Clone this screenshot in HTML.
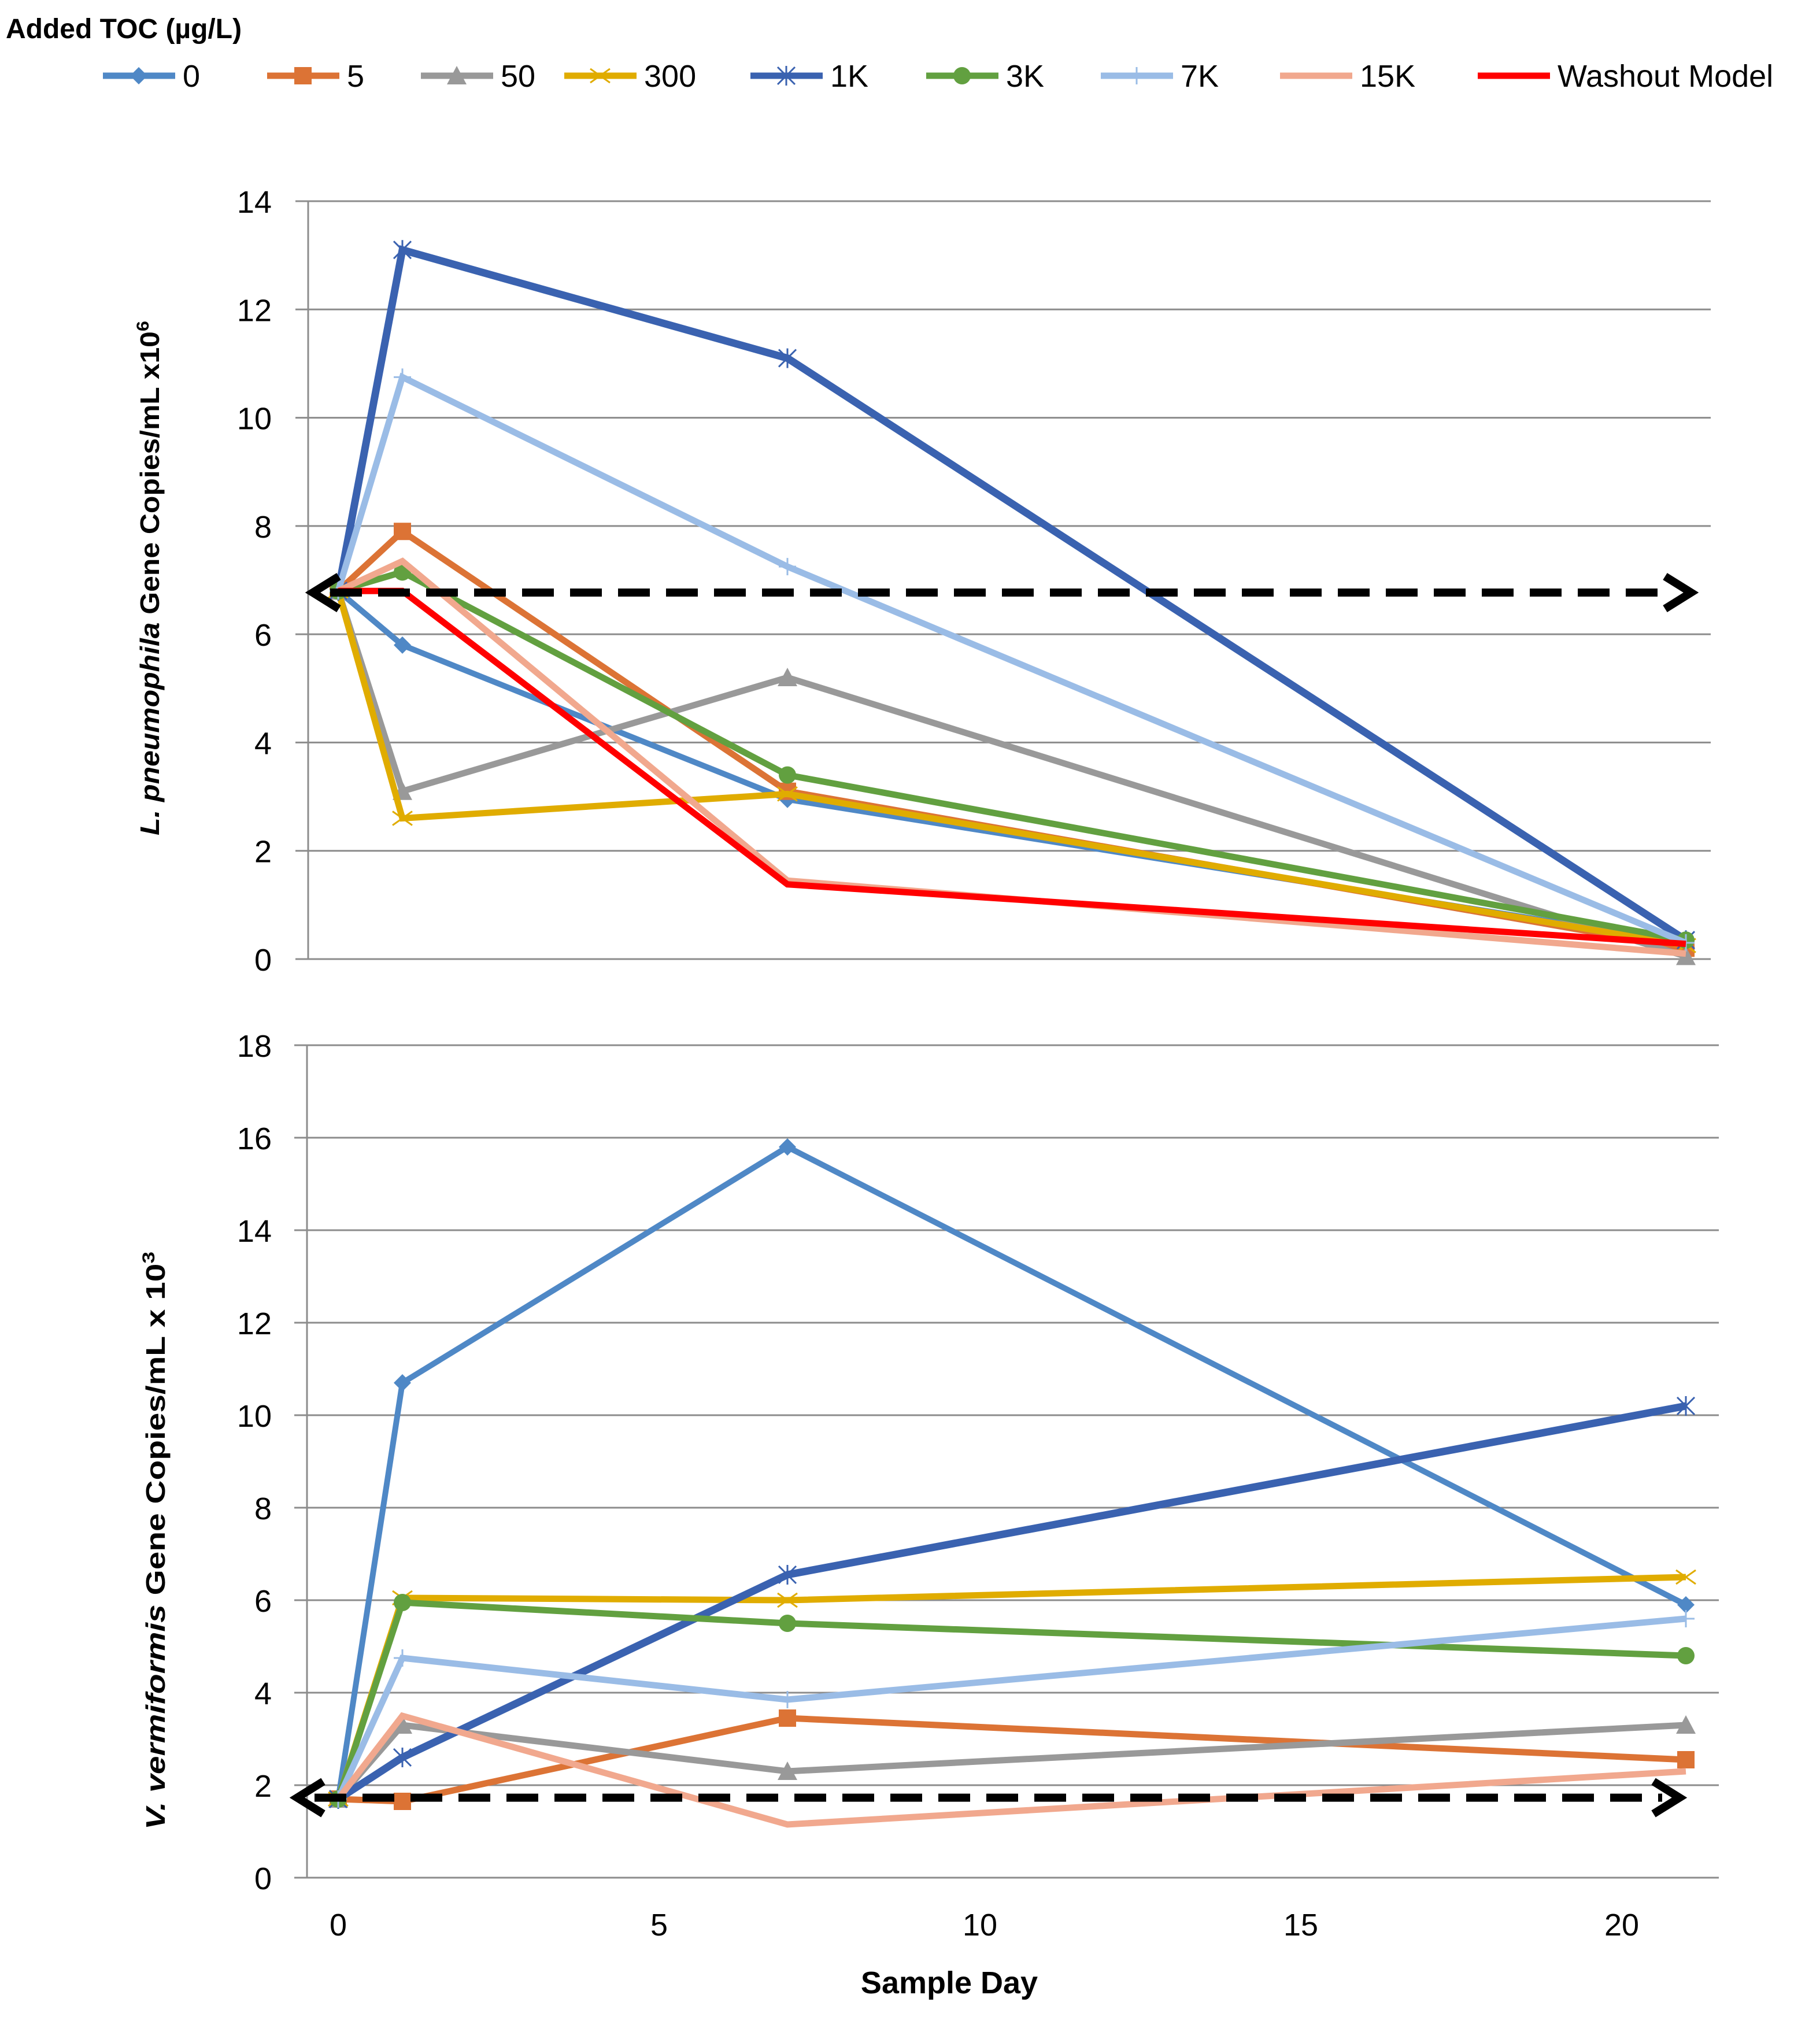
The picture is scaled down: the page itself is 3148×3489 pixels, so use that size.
<!DOCTYPE html>
<html><head><meta charset="utf-8"><style>
html,body{margin:0;padding:0;background:#fff;}
svg{display:block;}
text{font-family:"Liberation Sans",sans-serif;}
</style></head><body>
<svg id="chart" width="3148" height="3489" viewBox="0 0 3148 3489" xmlns="http://www.w3.org/2000/svg">
<text x="10" y="66" font-size="48" font-weight="bold">Added TOC (µg/L)</text>
<g id="legend"></g>
<g id="top"></g>
<g id="bot"></g>
<text transform="translate(275,1000) rotate(-90)" text-anchor="middle" font-size="46" font-weight="bold" textLength="890" lengthAdjust="spacingAndGlyphs"><tspan font-style="italic">L. pneumophila</tspan> Gene Copies/mL x10<tspan font-size="30" dy="-18">6</tspan></text>
<text transform="translate(285,2665) rotate(-90)" text-anchor="middle" font-size="46" font-weight="bold" textLength="1000" lengthAdjust="spacingAndGlyphs"><tspan font-style="italic">V. vermiformis</tspan> Gene Copies/mL x 10<tspan font-size="30" dy="-18">3</tspan></text>
<text x="1642" y="3448" text-anchor="middle" font-size="54" font-weight="bold">Sample Day</text>
</svg>
<script>
const days = [0, 1, 7, 21];
const seriesNames = ["0", "5", "50", "300", "1K", "3K", "7K", "15K", "Washout Model"];
const topS0 = [6.8, 5.8, 2.95, 0.3];
const topS5 = [6.8, 7.9, 3.1, 0.2];
const topS50 = [6.8, 3.1, 5.2, 0.05];
const topS300 = [6.8, 2.6, 3.05, 0.25];
const topS1K = [6.8, 13.1, 11.1, 0.35];
const topS3K = [6.8, 7.15, 3.4, 0.35];
const topS7K = [6.8, 10.75, 7.25, 0.3];
const topS15K = [6.8, 7.35, 1.45, 0.1];
const topWashout = [6.8, 6.8, 1.38, 0.28];
const botS0 = [1.7, 10.7, 15.8, 5.9];
const botS5 = [1.7, 1.65, 3.45, 2.55];
const botS50 = [1.7, 3.3, 2.3, 3.3];
const botS300 = [1.7, 6.05, 6.0, 6.5];
const botS1K = [1.7, 2.6, 6.55, 10.2];
const botS3K = [1.7, 5.95, 5.5, 4.8];
const botS7K = [1.7, 4.75, 3.85, 5.6];
const botS15K = [1.7, 3.5, 1.15, 2.3];
const topTicks = [0, 2, 4, 6, 8, 10, 12, 14];
const botTicks = [0, 2, 4, 6, 8, 10, 12, 14, 16, 18];
const xTicks = [0, 5, 10, 15, 20];
const topBaseline = 6.77;
const botBaseline = 1.73;

const NS = "http://www.w3.org/2000/svg";
const colors = ["#4F88C6", "#DC7335", "#999999", "#E0AC00", "#3A62B0", "#62A040", "#9ABCE6", "#F1A88E", "#FF0000"];
const markers = ["diamond", "square", "triangle", "x", "star", "circle", "plus", "none", "none"];
const widths = [10, 11, 11, 11, 13, 11, 11, 11, 11];
function mk(tag, attrs, parent) { const e = document.createElementNS(NS, tag); for (const k in attrs) e.setAttribute(k, attrs[k]); parent.appendChild(e); return e; }
const xScale = d => 585 + d * 111;

function marker(g, type, x, y, c) {
  let e = null;
  const s = 15;
  if (type === "diamond") e = mk("polygon", {points: `${x},${y-s} ${x+s},${y} ${x},${y+s} ${x-s},${y}`, fill: c}, g);
  else if (type === "square") e = mk("rect", {x: x-s, y: y-s, width: 2*s, height: 2*s, fill: c}, g);
  else if (type === "triangle") e = mk("polygon", {points: `${x},${y-s-2} ${x+s+2},${y+s} ${x-s-2},${y+s}`, fill: c}, g);
  else if (type === "circle") e = mk("circle", {cx: x, cy: y, r: s, fill: c}, g);
  else if (type === "x") e = mk("path", {d: `M${x-s-2},${y-s+3}L${x+s+2},${y+s-3}M${x-s-2},${y+s-3}L${x+s+2},${y-s+3}`, stroke: c, "stroke-width": 3, fill: "none"}, g);
  else if (type === "star") e = mk("path", {d: `M${x-s},${y-s}L${x+s},${y+s}M${x-s},${y+s}L${x+s},${y-s}M${x},${y-s-2}L${x},${y+s+2}`, stroke: c, "stroke-width": 3, fill: "none"}, g);
  else if (type === "plus") e = mk("path", {d: `M${x-s},${y}L${x+s},${y}M${x},${y-s}L${x},${y+s}`, stroke: c, "stroke-width": 3, fill: "none"}, g);
  if (e) {   }
}

function panel(gid, y0, yTop, vmax, ticks, left, right, seriesArr, baseline) {
  const g = document.getElementById(gid);
  const ys = v => y0 - (y0 - yTop) * v / vmax;
  ticks.forEach(t => {
    const l = mk("line", {x1: left - 22, x2: right, y1: ys(t), y2: ys(t), stroke: "#8c8c8c", "stroke-width": 3}, g);
    
    
    const tx = mk("text", {x: 470, y: ys(t) + 20, "text-anchor": "end", "font-size": 54}, g);
    tx.textContent = t;
    
    
  });
  const ax = mk("line", {x1: left, x2: left, y1: yTop, y2: y0, stroke: "#8c8c8c", "stroke-width": 3}, g);
  
  
  seriesArr.forEach((vals, i) => {
    if (!vals) return;
    const pts = vals.map((v, j) => `${xScale(days[j])},${ys(v)}`).join(" ");
    const pl = mk("polyline", {points: pts, fill: "none", stroke: colors[i], "stroke-width": widths[i], "stroke-linejoin": "miter"}, g);
    
    
    vals.forEach((v, j) => marker(g, markers[i], xScale(days[j]), ys(v), colors[i]));
  });
  const by = ys(baseline);
  const x1 = left + 8 - (gid === "bot" ? 25 : 0), x2 = gid === "bot" ? 2905 : 2925;
  const dl = mk("line", {x1: x1 + 30, x2: x2 - 30, y1: by, y2: by, stroke: "#000", "stroke-width": 14, "stroke-dasharray": "55 28"}, g);
  
  
  const ar = mk("path", {d: `M${x1+45},${by-28}L${x1},${by}L${x1+45},${by+28}M${x2-45},${by-28}L${x2},${by}L${x2-45},${by+28}`, fill: "none", stroke: "#000", "stroke-width": 14, "stroke-linejoin": "miter"}, g);
  
  
}

panel("top", 1659, 348, 14, topTicks, 533, 2959, [topS0, topS5, topS50, topS300, topS1K, topS3K, topS7K, topS15K, topWashout], topBaseline);
panel("bot", 3248, 1808, 18, botTicks, 531, 2973, [botS0, botS5, botS50, botS300, botS1K, botS3K, botS7K, botS15K, null], botBaseline);

const svg = document.getElementById("chart");
xTicks.forEach(t => {
  const tx = mk("text", {x: xScale(t), y: 3348, "text-anchor": "middle", "font-size": 54}, svg);
  tx.textContent = t;
  
  
});

const lg = document.getElementById("legend");
const legX = [178, 462, 728, 976, 1298, 1602, 1904, 2214, 2556];
seriesNames.forEach((n, i) => {
  const x = legX[i], y = 131;
  const e = mk("g", {}, lg);
  
  
  mk("line", {x1: x, x2: x + 125, y1: y, y2: y, stroke: colors[i], "stroke-width": 11}, e);
  marker(e, markers[i], x + 62, y, colors[i]);
  const t = mk("text", {x: x + 138, y: y + 19, "font-size": 54}, e);
  t.textContent = n;
});
</script>
</body></html>
